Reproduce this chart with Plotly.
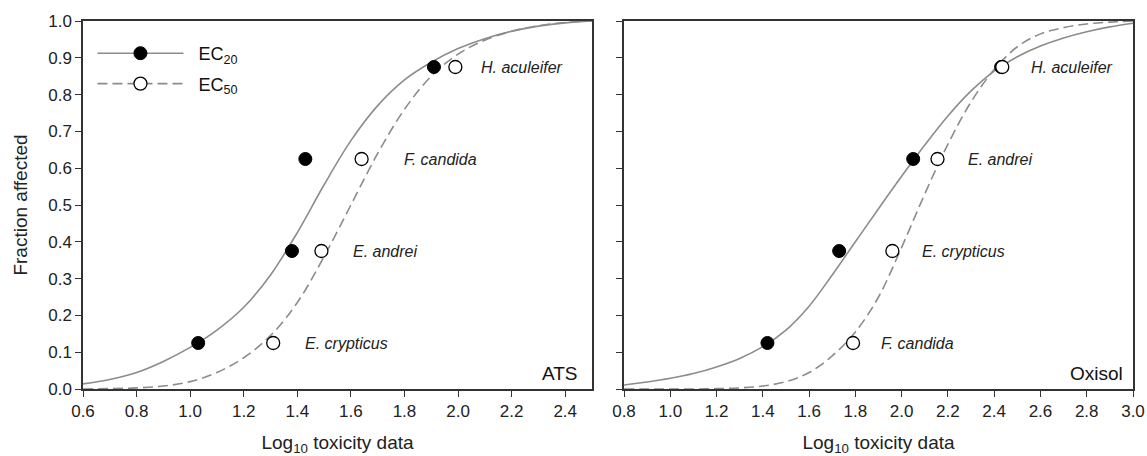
import plotly.graph_objects as go

# ---------------- data ----------------
frac = [0.125, 0.375, 0.625, 0.875]

# ATS panel
ats_species = ["E. crypticus", "E. andrei", "F. candida", "H. aculeifer"]
ats_ec20 = [1.03, 1.38, 1.43, 1.91]
ats_ec50 = [1.31, 1.49, 1.64, 1.99]
ats_label_x = [1.42, 1.60, 1.79, 2.08]

ats_curve_x = [0.6, 0.7, 0.8, 0.9, 1.0, 1.1, 1.2, 1.3, 1.4, 1.5, 1.6, 1.7, 1.8, 1.9, 2.0, 2.1, 2.2, 2.3, 2.4, 2.5]
ats_fit20 = [0.014, 0.026, 0.045, 0.075, 0.113, 0.16, 0.222, 0.31, 0.425, 0.555, 0.675, 0.77, 0.84, 0.888, 0.925, 0.952, 0.972, 0.986, 0.995, 1.0]
ats_fit50 = [0.0, 0.001, 0.003, 0.008, 0.02, 0.045, 0.085, 0.145, 0.235, 0.36, 0.5, 0.64, 0.76, 0.85, 0.91, 0.948, 0.972, 0.987, 0.996, 1.0]

# Oxisol panel
oxi_species = ["F. candida", "E. crypticus", "E. andrei", "H. aculeifer"]
oxi_ec20 = [1.42, 1.73, 2.05, 2.43]
oxi_ec50 = [1.79, 1.96, 2.155, 2.435]
oxi_label_x = [1.90, 2.08, 2.28, 2.55]

oxi_curve_x = [0.8, 0.9, 1.0, 1.1, 1.2, 1.3, 1.4, 1.5, 1.6, 1.7, 1.8, 1.9, 2.0, 2.1, 2.2, 2.3, 2.4, 2.5, 2.6, 2.7, 2.8, 2.9, 3.0]
oxi_fit20 = [0.011, 0.019, 0.029, 0.042, 0.06, 0.083, 0.115, 0.16, 0.225, 0.31, 0.4, 0.49, 0.578, 0.663, 0.742, 0.81, 0.864, 0.903, 0.932, 0.954, 0.971, 0.984, 0.994]
oxi_fit50 = [0.0, 0.0, 0.0, 0.0, 0.001, 0.003, 0.008, 0.02, 0.045, 0.09, 0.155, 0.25, 0.385, 0.53, 0.665, 0.78, 0.868, 0.93, 0.965, 0.982, 0.992, 0.997, 1.0]

y_ticks = [0.0, 0.1, 0.2, 0.3, 0.4, 0.5, 0.6, 0.7, 0.8, 0.9, 1.0]
ats_xticks = [0.6, 0.8, 1.0, 1.2, 1.4, 1.6, 1.8, 2.0, 2.2, 2.4]
oxi_xticks = [0.8, 1.0, 1.2, 1.4, 1.6, 1.8, 2.0, 2.2, 2.4, 2.6, 2.8, 3.0]

# ---------------- style ----------------
CURVE = "#8c8c8c"
FONT = "Liberation Sans, Arial, sans-serif"
DASH = "10px,5px"

fig = go.Figure()

def add_panel(xa, ya, cx, f20, f50, e20, e50, species, lx):
    fig.add_trace(go.Scatter(x=cx, y=f20, mode="lines", line=dict(color=CURVE, width=1.6, shape="spline", smoothing=1.0),
                             xaxis=xa, yaxis=ya, showlegend=False, hoverinfo="skip"))
    fig.add_trace(go.Scatter(x=cx, y=f50, mode="lines", line=dict(color=CURVE, width=1.6, dash=DASH, shape="spline", smoothing=1.0),
                             xaxis=xa, yaxis=ya, showlegend=False, hoverinfo="skip"))
    fig.add_trace(go.Scatter(x=e20, y=frac, mode="markers",
                             marker=dict(size=13, color="black", line=dict(color="black", width=1)),
                             xaxis=xa, yaxis=ya, showlegend=False))
    fig.add_trace(go.Scatter(x=e50, y=frac, mode="markers",
                             marker=dict(size=13, color="white", line=dict(color="black", width=1.3)),
                             xaxis=xa, yaxis=ya, showlegend=False))
    for name, x0, y0 in zip(species, lx, frac):
        fig.add_annotation(x=x0, y=y0, xref=xa, yref=ya, text="<i>" + name + "</i>", showarrow=False,
                           xanchor="left", yanchor="middle", font=dict(size=16, color="#222222", family=FONT))

add_panel("x", "y", ats_curve_x, ats_fit20, ats_fit50, ats_ec20, ats_ec50, ats_species, ats_label_x)
add_panel("x2", "y2", oxi_curve_x, oxi_fit20, oxi_fit50, oxi_ec20, oxi_ec50, oxi_species, oxi_label_x)

# legend entries
fig.add_trace(go.Scatter(x=[None], y=[None], mode="lines+markers", name="&nbsp;&nbsp;EC<sub>20</sub>",
                         line=dict(color=CURVE, width=1.6),
                         marker=dict(size=13, color="black", line=dict(color="black", width=1)),
                         legendgroup="a"))
fig.add_trace(go.Scatter(x=[None], y=[None], mode="lines+markers", name="&nbsp;&nbsp;EC<sub>50</sub>",
                         line=dict(color=CURVE, width=1.6, dash=DASH),
                         marker=dict(size=13, color="white", line=dict(color="black", width=1.3)),
                         legendgroup="b"))

fig.add_annotation(x=0.976, y=0.043, xref="x domain", yref="y", text="ATS", showarrow=False,
                   xanchor="right", yanchor="middle", font=dict(size=19, color="#111111", family=FONT))
fig.add_annotation(x=0.984, y=0.043, xref="x2 domain", yref="y2", text="Oxisol", showarrow=False,
                   xanchor="right", yanchor="middle", font=dict(size=19, color="#111111", family=FONT))

axis_common = dict(showline=True, linecolor="#333333", linewidth=1.5, mirror=True, ticks="outside",
                   ticklen=6, tickwidth=1.3, tickcolor="#333333", showgrid=False, zeroline=False,
                   automargin=False, tickfont=dict(size=17, color="#222222", family=FONT))

W, H = 1147, 456
L, R = 83, 14
pw = W - L - R
fig.update_layout(
    width=W, height=H,
    margin=dict(l=L, r=R, t=21, b=67),
    plot_bgcolor="white", paper_bgcolor="white",
    font=dict(family=FONT, color="#222222"),
    xaxis=dict(domain=[0, 509 / pw], range=[0.6, 2.5], tickvals=ats_xticks, tickformat=".1f",
               title=dict(text="Log<sub>10</sub> toxicity data", font=dict(size=19), standoff=17), **axis_common),
    yaxis=dict(range=[0, 1], tickvals=y_ticks, tickformat=".1f",
               title=dict(text="Fraction affected", font=dict(size=19), standoff=16), **axis_common),
    xaxis2=dict(domain=[541 / pw, 1], range=[0.8, 3.0], tickvals=oxi_xticks, tickformat=".1f",
                anchor="y2",
                title=dict(text="Log<sub>10</sub> toxicity data", font=dict(size=19), standoff=17), **axis_common),
    yaxis2=dict(range=[0, 1], tickvals=y_ticks, showticklabels=False, anchor="x2", **axis_common),
    showlegend=True,
    legend=dict(x=0.009, y=0.962, xanchor="left", yanchor="top", bgcolor="rgba(0,0,0,0)",
                font=dict(size=18, color="#111111", family=FONT), itemwidth=86, tracegroupgap=4),
)

fig.write_html("out.html")
